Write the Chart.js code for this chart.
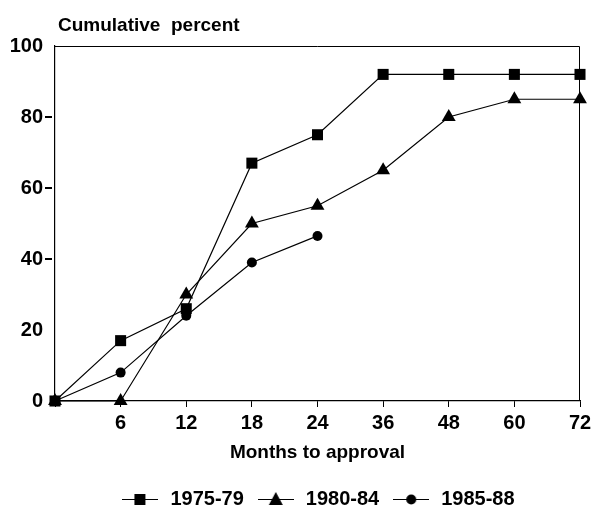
<!DOCTYPE html>
<html>
<head>
<meta charset="utf-8">
<script src="https://cdn.jsdelivr.net/npm/chart.js@4.4.0/dist/chart.umd.min.js"></script>
<style>
  body { margin: 0; background: #fff; }
  #wrap { width: 592px; height: 506px; }
</style>
</head>
<body>
<div id="wrap"><canvas id="approvalChart"></canvas></div>
<script>
// data
const months = [0, 6, 12, 18, 24, 36, 48, 60, 72];
const seriesNames = ['1975-79', '1980-84', '1985-88'];
const s1975 = [0, 17, 26, 67, 75, 92, 92, 92, 92];
const s1980 = [0, 0, 30, 50, 55, 65, 80, 85, 85];
const s1985 = [0, 8, 24, 39, 46.5, null, null, null, null];
const yTicks = [0, 20, 40, 60, 80, 100];
const yDashTicks = [40, 60, 80];

const FONT = "'Liberation Sans', Arial, sans-serif";
const styles = ['rect', 'triangle', 'circle'];
const radii = [7.8, 8, 5];

// small legend images: line with the marker in the middle
function legendIcon(style) {
    const c = document.createElement('canvas');
    c.width = 36; c.height = 16;
    const g = c.getContext('2d');
    g.strokeStyle = '#000';
    g.lineWidth = 1;
    g.beginPath();
    g.moveTo(0, 8.5); g.lineTo(36, 8.5);
    g.stroke();
    g.fillStyle = '#000';
    g.beginPath();
    if (style === 'rect') {
        g.rect(12, 3, 11, 11);
    } else if (style === 'triangle') {
        g.moveTo(18, 1); g.lineTo(25, 14); g.lineTo(11, 14); g.closePath();
    } else {
        g.arc(18, 8.5, 5, 0, Math.PI * 2);
    }
    g.fill();
    return c;
}
const icons = styles.map(legendIcon);

const frame = {
    id: 'frame',
    afterDraw(chart) {
        const {ctx, chartArea} = chart;
        const y = chart.scales.y;
        ctx.save();
        ctx.strokeStyle = '#000';
        ctx.lineWidth = 1;
        ctx.beginPath();
        ctx.moveTo(chartArea.left, chartArea.top + 0.5);
        ctx.lineTo(chartArea.right - 0.5, chartArea.top + 0.5);
        ctx.lineTo(chartArea.right - 0.5, chartArea.bottom);
        ctx.stroke();
        // short dashes left of the y axis next to some labels
        ctx.lineWidth = 2;
        yDashTicks.forEach(v => {
            const py = Math.round(y.getPixelForValue(v));
            ctx.beginPath();
            ctx.moveTo(chartArea.left - 10, py);
            ctx.lineTo(chartArea.left - 3, py);
            ctx.stroke();
        });
        ctx.fillStyle = '#000';
        ctx.font = 'bold 19px ' + FONT;
        ctx.textBaseline = 'alphabetic';
        ctx.fillText('Cumulative  percent', 58, 31);
        ctx.restore();
    }
};

const seriesData = [s1975, s1980, s1985];
const ctx = document.getElementById('approvalChart').getContext('2d');
new Chart(ctx, {
    type: 'line',
    data: {
        labels: months,
        datasets: seriesNames.map((name, i) => ({
            label: name,
            data: seriesData[i],
            borderColor: '#000',
            backgroundColor: '#000',
            borderWidth: 1.2,
            pointStyle: styles[i],
            pointRadius: radii[i],
            pointHoverRadius: radii[i],
            pointBorderWidth: 0,
            tension: 0,
            clip: false
        }))
    },
    plugins: [frame],
    options: {
        responsive: true,
        maintainAspectRatio: false,
        animation: false,
        layout: { padding: { top: 46, right: 12, left: 0, bottom: -13 } },
        plugins: {
            tooltip: { enabled: false },
            legend: {
                position: 'bottom',
                fullSize: false,
                labels: {
                    usePointStyle: true,
                    pointStyleWidth: 40,
                    padding: 12,
                    color: '#000',
                    font: { family: FONT, size: 20, weight: 'bold' },
                    generateLabels(chart) {
                        return seriesNames.map((name, i) => ({
                            text: name,
                            pointStyle: icons[i],
                            fillStyle: '#000',
                            strokeStyle: '#000',
                            lineWidth: 0,
                            fontColor: '#000',
                            datasetIndex: i
                        }));
                    }
                }
            }
        },
        scales: {
            x: {
                type: 'category',
                offset: false,
                afterFit(scale) {
                    scale.height = 76;
                    scale.paddingLeft = 0;
                    scale.paddingRight = 0;
                },
                border: { display: true, color: '#000', width: 1.2 },
                grid: { drawOnChartArea: false, drawTicks: true, tickLength: 6, color: '#000' },
                ticks: {
                    color: '#000',
                    padding: 4,
                    maxRotation: 0,
                    autoSkip: false,
                    font: { family: FONT, size: 20, weight: 'bold' },
                    callback(v, i) { return months[i] === 0 ? '' : months[i]; }
                },
                title: {
                    display: true,
                    text: 'Months to approval',
                    color: '#000',
                    font: { family: FONT, size: 19, weight: 'bold' },
                    padding: { top: 0, bottom: 13 }
                }
            },
            y: {
                min: 0,
                max: 100,
                afterFit(scale) { scale.width = 55; },
                afterBuildTicks(scale) { scale.ticks = yTicks.map(v => ({ value: v })); },
                border: { display: true, color: '#000', width: 1.2 },
                grid: { display: false },
                ticks: {
                    color: '#000',
                    padding: 4,
                    font: { family: FONT, size: 20, weight: 'bold' }
                }
            }
        }
    }
});
</script>
</body>
</html>
